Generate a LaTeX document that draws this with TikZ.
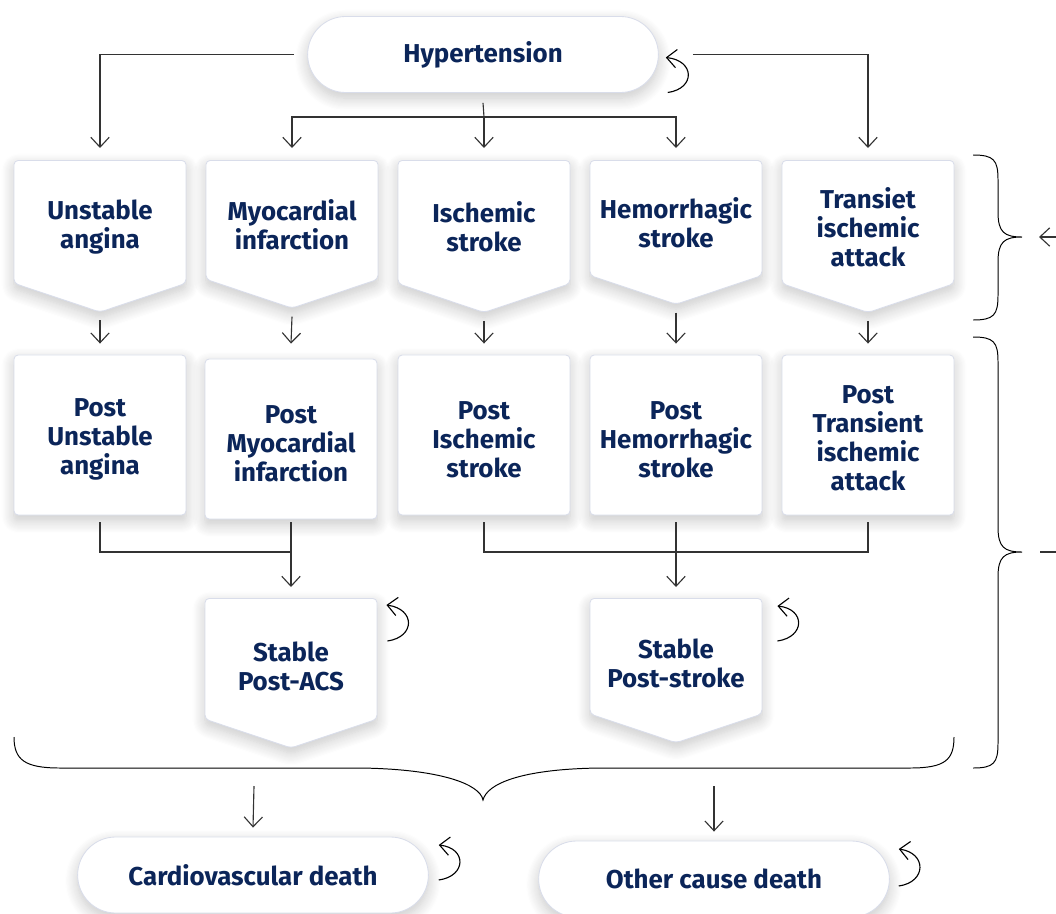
\documentclass[tikz,border=0pt]{standalone}
\usepackage{fontspec}
\setmainfont{Fira Sans}
\usetikzlibrary{arrows.meta, calc, positioning, shapes.misc, shapes.symbols, shadows.blur}
\definecolor{texte}{HTML}{0B2559}
\definecolor{bord}{HTML}{D9DDEA}
\definecolor{trait}{HTML}{333333}
\newcommand{\cale}[1]{\rule{0pt}{#1}}

\begin{document}
\begin{tikzpicture}[x=0.025cm, y=-0.025cm,
		etat/.style={draw=bord, line width=0.6pt, fill=white, text=texte,
			font=\fontsize{18.4}{20.6}\selectfont\bfseries, align=center,
			blur shadow={shadow blur steps=12, shadow xshift=0pt,
				shadow yshift=-4pt, shadow blur radius=9pt, shadow opacity=22}},
		capsule/.style={etat, rounded rectangle, minimum width=9cm, minimum height=1.9cm},
		fleche/.style={etat, signal, signal to=south, signal pointer angle=143,
			minimum width=4.3cm, minimum height=3.55cm, rounded corners=3pt, anchor=north},
		carre/.style={etat, rectangle, minimum width=4.3cm, minimum height=4cm, rounded corners=3pt},
		conn/.style={draw=trait, line width=0.8pt, -{Straight Barb[length=7pt,width=13pt]}},
		ligne/.style={draw=trait, line width=0.8pt},
		accolade/.style={draw=black, line width=0.7pt}
		]
		\useasboundingbox (0,0) rectangle (1056,913);
		
		% Les etats
		\node[capsule] (hyp) at (483,54.5) {Hypertension};
		
		\node[fleche] (r1) at (100,160) {\cale{22pt}Unstable\\angina};
		\node[fleche] (r2) at (292,160) {\cale{22pt}Myocardial\\infarction};
		\node[fleche] (r3) at (484,160) {\cale{22pt}Ischemic\\stroke};
		\node[fleche] (r4) at (676,160) {\cale{22pt}Hemorrhagic\\stroke};
		\node[fleche] (r5) at (868,160) {\cale{22pt}Transiet\\ischemic\\attack};
		
		\node[carre] (p1) at (100,435) {\cale{19pt}Post\\Unstable\\angina};
		\node[carre] (p2) at (291,439) {\cale{19pt}Post\\Myocardial\\infarction};
		\node[carre] (p3) at (484,435) {\cale{19pt}Post\\Ischemic\\stroke};
		\node[carre] (p4) at (676,435) {\cale{19pt}Post\\Hemorrhagic\\stroke};
		\node[carre] (p5) at (868,435) {\cale{17pt}Post\\Transient\\ischemic\\attack};
		
		\node[fleche, minimum height=3.5cm] (s1) at (291,598) {\cale{24.5pt}Stable\\Post-ACS};
		\node[fleche, minimum height=3.5cm] (s2) at (676,598) {\cale{24.5pt}Stable\\Post-stroke};
		
		\node[capsule] (cvd) at (253,875) {Cardiovascular death};
		\node[capsule] (ocd) at (714,879) {Other cause death};
		
		% Points de jonction
		\coordinate (j0) at (484,117);
		\coordinate (j1) at (291,552);
		\coordinate (j2) at (676,552);
		\coordinate (d1) at (254,786);
		\coordinate (d2) at (714,786);
		\coordinate (e1) at (1056,237);
		\coordinate (e2) at (1056,552);
		\coordinate (t1) at (1022,237);
		\coordinate (t2) at (1022,552);
		
		% Les transitions
		\draw[conn] ([shift={(-13,0)}]hyp.west) -| ([shift={(0,-12)}]r1.north);
		\draw[conn] ([shift={(34,0)}]hyp.east) -| ([shift={(0,-12)}]r5.north);
		\draw[ligne] ([shift={(0,10)}]hyp.south) -- (j0);
		\draw[conn] (j0) -| ([shift={(0,-12)}]r2.north);
		\draw[conn] (j0) -| ([shift={(0,-12)}]r4.north);
		\draw[conn] (j0) -- ([shift={(0,-12)}]r3.north);
		
		\draw[conn] ([shift={(0,8)}]r1.south) -- ([shift={(0,-11)}]p1.north);
		\draw[conn] ([shift={(0,8)}]r2.south) -- ([shift={(0,-15)}]p2.north);
		\draw[conn] ([shift={(0,8)}]r3.south) -- ([shift={(0,-11)}]p3.north);
		\draw[conn] ([shift={(0,8)}]r4.south) -- ([shift={(0,-11)}]p4.north);
		\draw[conn] ([shift={(0,8)}]r5.south) -- ([shift={(0,-11)}]p5.north);
		
		\draw[ligne] ([shift={(0,7)}]p1.south) |- (j1);
		\draw[conn] ([shift={(0,3)}]p2.south) -- ([shift={(0,-11)}]s1.north);
		\draw[ligne] ([shift={(0,7)}]p3.south) |- (j2) -| ([shift={(0,7)}]p5.south);
		\draw[conn] ([shift={(0,7)}]p4.south) -- ([shift={(0,-11)}]s2.north);
		
		\draw[conn] (d1) -- ([shift={(0,-9)}]cvd.north);
		\draw[conn] (d2) -- ([shift={(0,-9)}]ocd.north);
		
		\draw[conn] (e1) -- ([shift={(17,0)}]t1);
		\draw[ligne] (e2) -- ([shift={(18,0)}]t2);
		
		% Les boucles
		\draw[conn, black] ($(hyp.east)+(9,38)$) .. controls ($(hyp.east)+(37,34)$) and ($(hyp.east)+(36,6)$) .. ($(hyp.east)+(7,3)$);
		\draw[conn, black] ($(s1.north east)+(10,43)$) .. controls ($(s1.north east)+(38,39)$) and ($(s1.north east)+(38,11)$) .. ($(s1.north east)+(9,7)$);
		\draw[conn, black] ($(s2.north east)+(15,43)$) .. controls ($(s2.north east)+(43,39)$) and ($(s2.north east)+(43,11)$) .. ($(s2.north east)+(15,8)$);
		\draw[conn, black] ($(cvd.east)+(10,5)$) .. controls ($(cvd.east)+(38,1)$) and ($(cvd.east)+(38,-27)$) .. ($(cvd.east)+(10,-30)$);
		\draw[conn, black] ($(ocd.east)+(9,7)$) .. controls ($(ocd.east)+(37,3)$) and ($(ocd.east)+(37,-26)$) .. ($(ocd.east)+(9,-30)$);
		
		% Les accolades
		\draw[accolade] (973,155) .. controls (994,155) and (998,160) .. (998,180) -- (998,212)
			.. controls (998,232) and (1004,237) .. (t1) .. controls (1004,237) and (998,242) .. (998,262)
			-- (998,295) .. controls (998,315) and (994,320) .. (973,320);
		\draw[accolade] (973,337) .. controls (994,337) and (998,342) .. (998,362) -- (998,527)
			.. controls (998,547) and (1004,552) .. (t2) .. controls (1004,552) and (998,557) .. (998,577)
			-- (998,743) .. controls (998,763) and (994,768) .. (973,768);
		\draw[accolade] (14,737) .. controls (14,760) and (25,768) .. (60,768) -- (360,768)
			.. controls (440,769) and (480,784) .. (483,800) .. controls (487,784) and (520,769) .. (600,768)
			-- (910,768) .. controls (945,768) and (954,760) .. (954,737);
	\end{tikzpicture}
\end{document}
